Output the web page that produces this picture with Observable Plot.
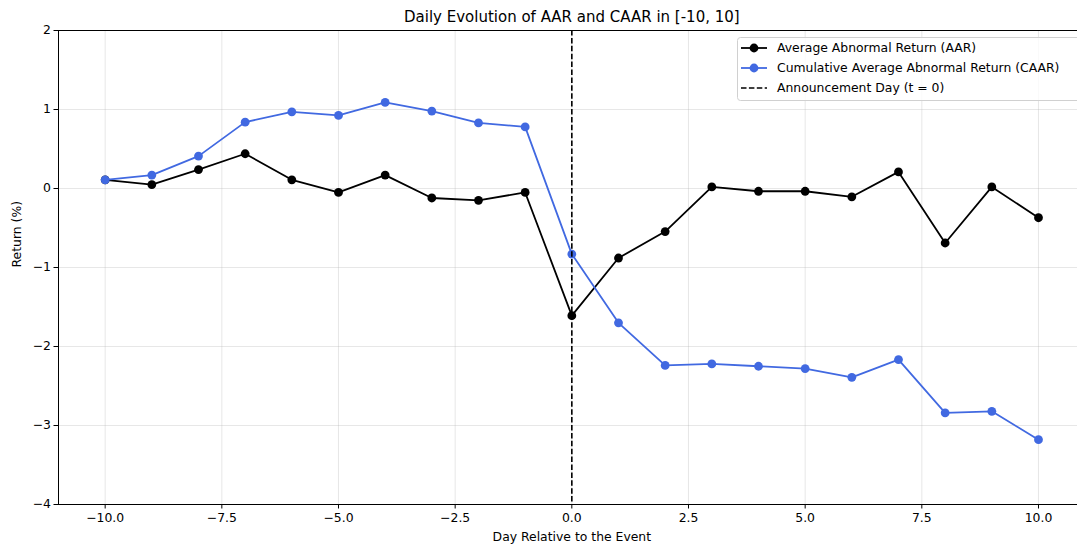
<!DOCTYPE html>
<html>
<head>
<meta charset="utf-8">
<script src="https://cdn.jsdelivr.net/npm/d3@7"></script>
<script src="https://cdn.jsdelivr.net/npm/@observablehq/plot@0.6"></script>
<style>
  html, body { margin: 0; padding: 0; background: white; }
  #wrap { position: relative; width: 1077px; height: 548px; overflow: hidden; font-family: "DejaVu Sans", sans-serif; }
  #legend { position: absolute; left: 737px; top: 37px; }
</style>
</head>
<body>
<div id="wrap">
  <div id="chart"></div>
  <div id="legend"></div>
</div>
<script>
const days = [-10,-9,-8,-7,-6,-5,-4,-3,-2,-1,0,1,2,3,4,5,6,7,8,9,10];
const aar  = [0.11,0.05,0.24,0.44,0.11,-0.05,0.17,-0.12,-0.15,-0.05,-1.61,-0.88,-0.545,0.02,-0.035,-0.035,-0.105,0.21,-0.69,0.02,-0.37];
const caar = [0.11,0.17,0.41,0.84,0.97,0.925,1.09,0.98,0.83,0.78,-0.83,-1.70,-2.24,-2.22,-2.25,-2.28,-2.39,-2.165,-2.84,-2.82,-3.18];
const xTicks = [-10,-7.5,-5,-2.5,0,2.5,5,7.5,10];
const yTicks = [-4,-3,-2,-1,0,1,2];
const eventDay = [0];
const labels = {
  title: "Daily Evolution of AAR and CAAR in [-10, 10]",
  x: "Day Relative to the Event",
  y: "Return (%)",
  aar: "Average Abnormal Return (AAR)",
  caar: "Cumulative Average Abnormal Return (CAAR)",
  event: "Announcement Day (t = 0)"
};

const data = days.map((d, i) => ({day: d, aar: aar[i], caar: caar[i]}));
const minus = s => String(s).replace("-", "\u2212");
const blue = "#4169E1";
const fs = 12.4;

const chart = Plot.plot({
  width: 1077,
  height: 548,
  marginTop: 30,
  marginLeft: 58,
  marginRight: 0,
  marginBottom: 44,
  style: {fontFamily: "'DejaVu Sans', sans-serif", fontSize: fs + "px", background: "white", color: "#000", overflow: "visible"},
  x: {domain: [-11, 10.836]},
  y: {domain: [-4, 2]},
  marks: [
    Plot.gridX(xTicks, {stroke: "#b0b0b0", strokeOpacity: 0.3, strokeWidth: 1}),
    Plot.gridY(yTicks, {stroke: "#b0b0b0", strokeOpacity: 0.3, strokeWidth: 1}),
    Plot.axisX({ticks: xTicks, tickFormat: d => minus(d.toFixed(1)), tickSize: 4.5, tickPadding: 4, label: null, fontSize: fs + "px"}),
    Plot.axisY({ticks: yTicks, tickFormat: d => minus(d), tickSize: 4.5, tickPadding: 3, label: null, fontSize: fs + "px"}),
    Plot.ruleY([-4], {stroke: "black", strokeWidth: 1}),
    Plot.ruleY([2], {stroke: "black", strokeWidth: 1}),
    Plot.ruleX([-11], {stroke: "black", strokeWidth: 1}),
    Plot.line(data, {x: "day", y: "aar", stroke: "black", strokeWidth: 1.8}),
    Plot.dot(data, {x: "day", y: "aar", fill: "black", r: 4.4}),
    Plot.line(data, {x: "day", y: "caar", stroke: blue, strokeWidth: 1.8}),
    Plot.dot(data, {x: "day", y: "caar", fill: blue, r: 4.4}),
    Plot.ruleX(eventDay, {stroke: "black", strokeWidth: 1.6, strokeDasharray: "5.5,2.4"}),
    Plot.text([labels.title], {x: () => 0, frameAnchor: "top", lineAnchor: "middle", dy: -13, fontSize: 15, fill: "black"}),
    Plot.text([labels.x], {x: () => 0, frameAnchor: "bottom", lineAnchor: "middle", dy: 33, fontSize: fs, fill: "black"}),
    Plot.text([labels.y], {frameAnchor: "left", lineAnchor: "middle", dx: -41, rotate: -90, fontSize: fs, fill: "black"})
  ]
});
document.getElementById("chart").appendChild(chart);

// Legend
const lg = d3.select("#legend").append("svg").attr("width", 380).attr("height", 66)
  .style("font-family", "'DejaVu Sans', sans-serif").style("font-size", fs + "px");
lg.append("rect").attr("x", 0.5).attr("y", 0.5).attr("width", 378).attr("height", 63)
  .attr("rx", 3).attr("fill", "white").attr("fill-opacity", 0.8).attr("stroke", "#d0d0d0");
const items = [
  {label: labels.aar, color: "black", dot: true, dash: null},
  {label: labels.caar, color: blue, dot: true, dash: null},
  {label: labels.event, color: "black", dot: false, dash: "5.5,2.4"}
];
items.forEach((it, i) => {
  const cy = 11 + i * 20;
  lg.append("line").attr("x1", 4).attr("x2", 30).attr("y1", cy).attr("y2", cy)
    .attr("stroke", it.color).attr("stroke-width", it.dash ? 1.6 : 1.8)
    .attr("stroke-dasharray", it.dash);
  if (it.dot) lg.append("circle").attr("cx", 17).attr("cy", cy).attr("r", 4.4).attr("fill", it.color);
  lg.append("text").attr("x", 40).attr("y", cy).attr("dy", "0.35em").attr("fill", "#000").text(it.label);
});
</script>
</body>
</html>
